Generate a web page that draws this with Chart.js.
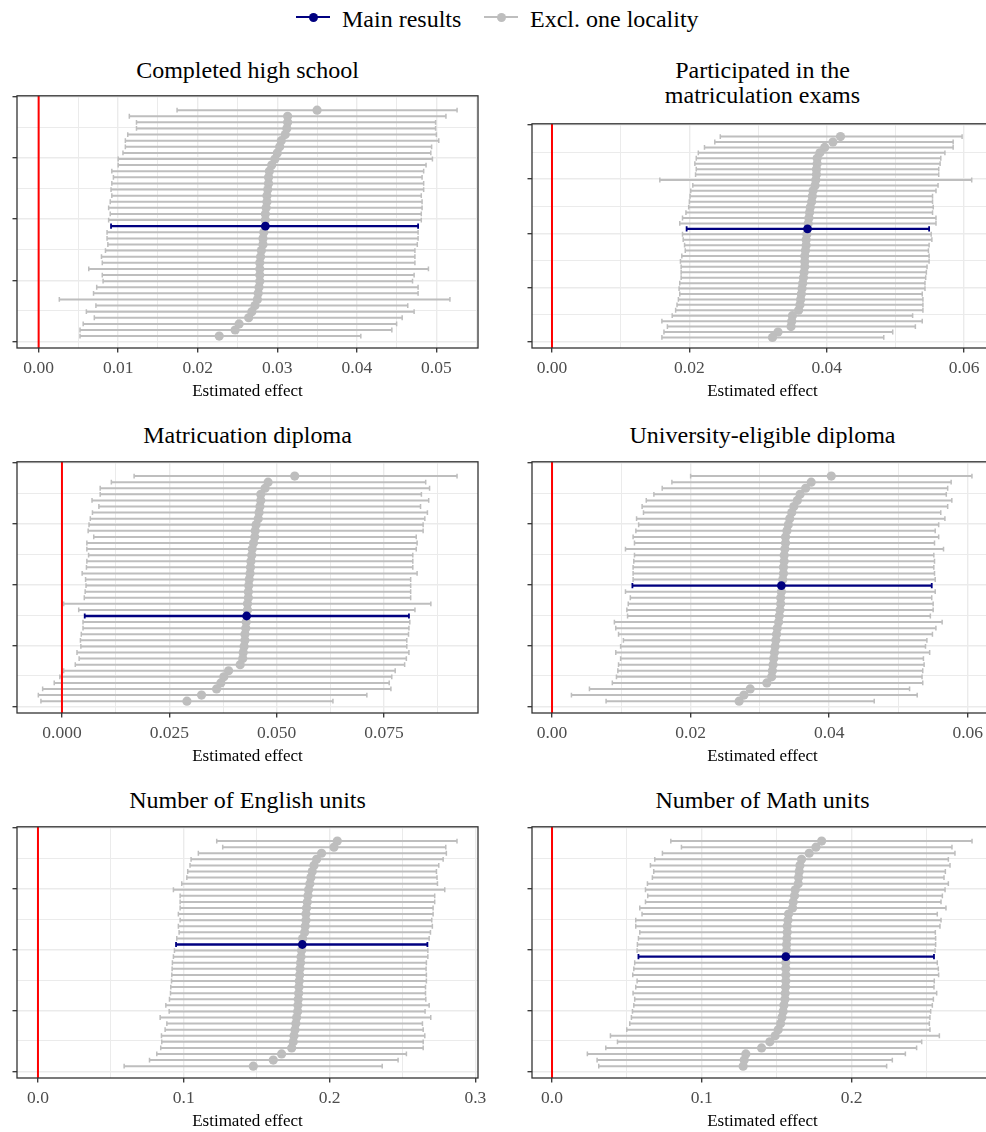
<!DOCTYPE html>
<html>
<head>
<meta charset="utf-8">
<script src="https://cdn.jsdelivr.net/npm/chart.js@4.4.0/dist/chart.umd.min.js"></script>
<style>
  body { margin: 0; width: 986px; height: 1132px; background: #fff; position: relative; overflow: hidden;
         font-family: "Liberation Serif", "DejaVu Serif", serif; }
  .title { position: absolute; text-align: center; font-size: 24px; line-height: 25px; color: #000; white-space: nowrap; }
  .leg-text { position: absolute; top: 6.6px; font-size: 24px; line-height: 24px; color: #000; white-space: nowrap; }
  .leg-line { position: absolute; top: 16px; width: 34px; height: 2px; }
  .leg-dot { position: absolute; top: 12.6px; width: 9px; height: 9px; border-radius: 50%; }
</style>
</head>
<body>
<div class="leg-line" style="left:296px;background:#000080"></div>
<div class="leg-dot" style="left:308.5px;background:#000080"></div>
<div class="leg-text" style="left:342px">Main results</div>
<div class="leg-line" style="left:484px;background:#bebebe"></div>
<div class="leg-dot" style="left:496.5px;background:#bebebe"></div>
<div class="leg-text" style="left:530px">Excl. one locality</div>

<script>
// panel titles
const titles = ['Completed high school', ['Participated in the', 'matriculation exams'],
  'Matricuation diploma', 'University-eligible diploma', 'Number of English units', 'Number of Math units'];

// estimates excluding one locality, listed top row to bottom row
const hsEst = [0.0350, 0.0313, 0.0313, 0.0312, 0.0310, 0.0305, 0.0303, 0.0300, 0.0297, 0.0293, 0.0290, 0.0289, 0.0289, 0.0288, 0.0287, 0.0287, 0.0286, 0.0285, 0.0285,
  0.0283, 0.0282, 0.0282, 0.0280, 0.0279, 0.0278, 0.0278, 0.0278, 0.0278, 0.0277, 0.0276, 0.0275, 0.0272, 0.0268, 0.0264, 0.0252, 0.0247, 0.0227];
const hsLo = [0.0174, 0.0114, 0.0123, 0.0123, 0.0112, 0.0109, 0.0109, 0.0106, 0.0100, 0.0100, 0.0092, 0.0094, 0.0092, 0.0091, 0.0092, 0.0090, 0.0088, 0.0090, 0.0088,
  0.0086, 0.0086, 0.0087, 0.0084, 0.0079, 0.0080, 0.0063, 0.0080, 0.0081, 0.0073, 0.0069, 0.0026, 0.0072, 0.0060, 0.0070, 0.0056, 0.0052, 0.0052];
const hsHi = [0.0526, 0.0512, 0.0499, 0.0499, 0.0500, 0.0503, 0.0494, 0.0493, 0.0495, 0.0487, 0.0484, 0.0482, 0.0484, 0.0484, 0.0481, 0.0482, 0.0482, 0.0481, 0.0481,
  0.0477, 0.0477, 0.0476, 0.0473, 0.0473, 0.0473, 0.0490, 0.0472, 0.0470, 0.0477, 0.0477, 0.0517, 0.0464, 0.0472, 0.0457, 0.0450, 0.0444, 0.0405];

const exEst = [0.0420, 0.0409, 0.0397, 0.0390, 0.0386, 0.0386, 0.0385, 0.0385, 0.0384, 0.0383, 0.0380, 0.0379, 0.0378, 0.0376, 0.0375, 0.0374, 0.0373,
  0.0371, 0.0370, 0.0370, 0.0369, 0.0368, 0.0368, 0.0368, 0.0367, 0.0366, 0.0365, 0.0364, 0.0363, 0.0362, 0.0361, 0.0359, 0.0350, 0.0349, 0.0348, 0.0329, 0.0321];
const exLo = [0.0245, 0.0237, 0.0222, 0.0213, 0.0210, 0.0208, 0.0210, 0.0209, 0.0157, 0.0205, 0.0202, 0.0201, 0.0200, 0.0199, 0.0195, 0.0190, 0.0186,
  0.0190, 0.0191, 0.0193, 0.0194, 0.0189, 0.0187, 0.0188, 0.0188, 0.0188, 0.0186, 0.0185, 0.0186, 0.0184, 0.0182, 0.0180, 0.0175, 0.0160, 0.0168, 0.0163, 0.0160];
const exHi = [0.0597, 0.0584, 0.0584, 0.0572, 0.0566, 0.0565, 0.0563, 0.0563, 0.0611, 0.0562, 0.0559, 0.0554, 0.0554, 0.0555, 0.0554, 0.0559, 0.0559,
  0.0552, 0.0553, 0.0549, 0.0548, 0.0549, 0.0549, 0.0546, 0.0545, 0.0544, 0.0543, 0.0543, 0.0539, 0.0540, 0.0540, 0.0540, 0.0525, 0.0539, 0.0529, 0.0496, 0.0483];

const dipEst = [0.0542, 0.0480, 0.0473, 0.0463, 0.0463, 0.0461, 0.0459, 0.0457, 0.0452, 0.0450, 0.0449, 0.0446, 0.0443, 0.0442, 0.0440, 0.0439, 0.0438, 0.0436, 0.0435, 0.0434, 0.0434, 0.0432, 0.0432,
  0.0429, 0.0428, 0.0426, 0.0426, 0.0424, 0.0422, 0.0421, 0.0415, 0.0388, 0.0377, 0.0370, 0.0360, 0.0325, 0.0291];
const dipLo = [0.0168, 0.0115, 0.0089, 0.0089, 0.0070, 0.0086, 0.0071, 0.0066, 0.0063, 0.0061, 0.0074, 0.0058, 0.0058, 0.0062, 0.0058, 0.0057, 0.0047, 0.0055, 0.0056, 0.0054, 0.0052, 0.0004, 0.0039,
  0.0049, 0.0049, 0.0045, 0.0043, 0.0044, 0.0035, 0.0040, 0.0031, 0.0004, -0.0005, -0.0018, -0.0045, -0.0055, -0.0049];
const dipHi = [0.0920, 0.0847, 0.0856, 0.0837, 0.0854, 0.0835, 0.0851, 0.0845, 0.0841, 0.0841, 0.0825, 0.0827, 0.0825, 0.0817, 0.0817, 0.0817, 0.0827, 0.0812, 0.0812, 0.0812, 0.0812, 0.0859, 0.0822,
  0.0810, 0.0808, 0.0807, 0.0803, 0.0803, 0.0808, 0.0802, 0.0798, 0.0776, 0.0768, 0.0762, 0.0766, 0.0710, 0.0631];

const uniEst = [0.0403, 0.0374, 0.0366, 0.0358, 0.0354, 0.0349, 0.0346, 0.0343, 0.0341, 0.0339, 0.0337, 0.0337, 0.0336, 0.0335, 0.0335, 0.0334, 0.0334, 0.0333,
  0.0331, 0.0330, 0.0330, 0.0329, 0.0328, 0.0327, 0.0325, 0.0324, 0.0323, 0.0322, 0.0321, 0.0320, 0.0319, 0.0318, 0.0317, 0.0310, 0.0286, 0.0277, 0.0270];
const uniLo = [0.0200, 0.0173, 0.0159, 0.0147, 0.0136, 0.0130, 0.0132, 0.0122, 0.0125, 0.0121, 0.0117, 0.0119, 0.0106, 0.0119, 0.0118, 0.0117, 0.0117, 0.0117,
  0.0106, 0.0113, 0.0110, 0.0108, 0.0109, 0.0090, 0.0092, 0.0096, 0.0103, 0.0099, 0.0092, 0.0099, 0.0096, 0.0095, 0.0093, 0.0087, 0.0054, 0.0028, 0.0078];
const uniHi = [0.0606, 0.0576, 0.0571, 0.0569, 0.0577, 0.0571, 0.0561, 0.0567, 0.0558, 0.0553, 0.0558, 0.0552, 0.0565, 0.0551, 0.0552, 0.0551, 0.0552, 0.0553,
  0.0553, 0.0548, 0.0550, 0.0550, 0.0546, 0.0563, 0.0554, 0.0549, 0.0541, 0.0539, 0.0545, 0.0536, 0.0537, 0.0535, 0.0534, 0.0535, 0.0516, 0.0527, 0.0465];

const engEst = [0.2053, 0.2030, 0.1945, 0.1911, 0.1893, 0.1881, 0.1872, 0.1865, 0.1856, 0.1852, 0.1847, 0.1842, 0.1838, 0.1838, 0.1833, 0.1829, 0.1815,
  0.1808, 0.1804, 0.1801, 0.1797, 0.1795, 0.1792, 0.1790, 0.1788, 0.1785, 0.1783, 0.1781, 0.1774, 0.1769, 0.1763, 0.1756, 0.1751, 0.1740, 0.1671, 0.1614, 0.1477];
const engLo = [0.1226, 0.1267, 0.1100, 0.1050, 0.1043, 0.1027, 0.1021, 0.0986, 0.0929, 0.0975, 0.0975, 0.0975, 0.0963, 0.0975, 0.0963, 0.0968, 0.0952,
  0.0936, 0.0929, 0.0922, 0.0920, 0.0918, 0.0916, 0.0911, 0.0909, 0.0902, 0.0877, 0.0900, 0.0838, 0.0884, 0.0872, 0.0847, 0.0849, 0.0842, 0.0815, 0.0765, 0.0591];
const engHi = [0.2874, 0.2797, 0.2801, 0.2779, 0.2749, 0.2733, 0.2737, 0.2740, 0.2790, 0.2721, 0.2721, 0.2710, 0.2710, 0.2701, 0.2705, 0.2692, 0.2683,
  0.2674, 0.2674, 0.2664, 0.2662, 0.2664, 0.2664, 0.2658, 0.2658, 0.2660, 0.2683, 0.2655, 0.2694, 0.2637, 0.2642, 0.2653, 0.2642, 0.2642, 0.2527, 0.2470, 0.2361];

const mathEst = [0.1800, 0.1762, 0.1717, 0.1666, 0.1655, 0.1650, 0.1646, 0.1644, 0.1624, 0.1619, 0.1610, 0.1606, 0.1579, 0.1575, 0.1570, 0.1570, 0.1568, 0.1566, 0.1566,
  0.1561, 0.1561, 0.1561, 0.1561, 0.1559, 0.1557, 0.1555, 0.1548, 0.1543, 0.1535, 0.1526, 0.1510, 0.1490, 0.1454, 0.1399, 0.1294, 0.1283, 0.1276];
const mathLo = [0.0793, 0.0864, 0.0737, 0.0686, 0.0657, 0.0679, 0.0670, 0.0637, 0.0624, 0.0639, 0.0624, 0.0586, 0.0601, 0.0559, 0.0559, 0.0586, 0.0577, 0.0570, 0.0568,
  0.0552, 0.0546, 0.0539, 0.0568, 0.0559, 0.0541, 0.0552, 0.0546, 0.0537, 0.0530, 0.0519, 0.0499, 0.0390, 0.0437, 0.0359, 0.0236, 0.0301, 0.0312];
const mathHi = [0.2804, 0.2670, 0.2690, 0.2646, 0.2657, 0.2626, 0.2617, 0.2646, 0.2624, 0.2606, 0.2597, 0.2630, 0.2572, 0.2597, 0.2590, 0.2559, 0.2561, 0.2561, 0.2557,
  0.2572, 0.2579, 0.2581, 0.2552, 0.2550, 0.2568, 0.2546, 0.2539, 0.2528, 0.2523, 0.2519, 0.2523, 0.2586, 0.2468, 0.2434, 0.2359, 0.2272, 0.2234];

// main results, one per panel, and the row (from the top) where each sits
const mainEst = [0.0285, 0.0372, 0.0430, 0.0331, 0.1813, 0.1561];
const mainLo = [0.0091, 0.0196, 0.0053, 0.0116, 0.0947, 0.0577];
const mainHi = [0.0477, 0.0549, 0.0808, 0.0548, 0.2671, 0.2550];
const mainRow = [19, 17, 23, 18, 17, 19];

// x axis: labelled ticks, decimals, and visible range
const xTicks = [[0, 0.01, 0.02, 0.03, 0.04, 0.05], [0, 0.02, 0.04, 0.06], [0, 0.025, 0.05, 0.075],
  [0, 0.02, 0.04, 0.06], [0, 0.1, 0.2, 0.3], [0, 0.1, 0.2]];
const xDigits = [2, 2, 3, 2, 1, 1];
const xMin = [-0.00272, -0.00291, -0.01047, -0.00289, -0.01438, -0.01336];
const xMax = [0.05523, 0.0642, 0.09688, 0.06364, 0.3018, 0.2944];

const estSets = [hsEst, exEst, dipEst, uniEst, engEst, mathEst];
const loSets = [hsLo, exLo, dipLo, uniLo, engLo, mathLo];
const hiSets = [hsHi, exHi, dipHi, uniHi, engHi, mathHi];

// panel boxes [left, top, right, bottom] in page pixels
const boxes = [[17, 95, 478, 348], [532, 123, 993, 348], [17, 461, 478, 713],
  [532, 461, 993, 713], [17, 826, 478, 1078], [532, 826, 993, 1078]];
const titleTops = [57.5, 57.5, 423.4, 423.4, 788.4, 788.4];

const GRAY = '#bebebe';
const NAVY = '#000080';
const Y_MIN = -1.1, Y_MAX = 40.2, TOP_ROW = 37.85;
const yMajor = [0, 10, 20, 30, 40];
const yAll = [0, 5, 10, 15, 20, 25, 30, 35, 40];

Chart.defaults.font.family = '"Liberation Serif", "DejaVu Serif", serif';

function isMajor(v, majors) {
  return majors.some(m => Math.abs(m - v) < 1e-9);
}

const panelBorder = {
  id: 'panelBorder',
  afterDatasetsDraw(chart) {
    const { ctx, chartArea: a } = chart;
    ctx.save();
    ctx.strokeStyle = '#333333';
    ctx.lineWidth = 1.3;
    ctx.strokeRect(a.left, a.top, a.right - a.left, a.bottom - a.top);
    ctx.restore();
  }
};

function makePanel(i) {
  const [L, T, R, B] = boxes[i];
  const padR = 16, padT = 5, padB = 1, yW = 8, xH = 58;

  const t = document.createElement('div');
  t.className = 'title';
  t.style.left = L + 'px';
  t.style.width = (R - L) + 'px';
  t.style.top = titleTops[i] + 'px';
  t.innerHTML = [].concat(titles[i]).join('<br>');
  document.body.appendChild(t);

  const cv = document.createElement('canvas');
  cv.width = R - L + yW + padR;
  cv.height = B - T + padT + xH + padB;
  cv.style.position = 'absolute';
  cv.style.left = (L - yW) + 'px';
  cv.style.top = (T - padT) + 'px';
  document.body.appendChild(cv);

  const est = estSets[i], lo = loSets[i], hi = hiSets[i];
  const bars = [], dots = [];
  est.forEach((e, j) => {
    const y = TOP_ROW - (j < mainRow[i] ? j : j + 1);
    bars.push({ x: lo[j], y: y }, { x: hi[j], y: y }, { x: lo[j], y: null });
    dots.push({ x: e, y: y });
  });
  const my = TOP_ROW - mainRow[i];

  const majors = xTicks[i];
  const half = (majors[1] - majors[0]) / 2;
  const xAll = [];
  for (let v = Math.ceil(xMin[i] / half - 1e-9) * half; v <= xMax[i] + 1e-9; v += half) {
    xAll.push(Number(v.toFixed(6)));
  }

  new Chart(cv, {
    type: 'scatter',
    data: {
      datasets: [
        { data: [{ x: mainEst[i], y: my }], pointRadius: 4.4, pointBackgroundColor: NAVY,
          pointBorderColor: NAVY, pointBorderWidth: 0, order: 0 },
        { data: [{ x: mainLo[i], y: my }, { x: mainHi[i], y: my }], showLine: true,
          borderColor: NAVY, borderWidth: 2.3, pointStyle: 'line', pointRotation: 90,
          pointRadius: 2.6, pointBorderColor: NAVY, pointBorderWidth: 1.8, order: 1 },
        { data: dots, pointRadius: 4.6, pointBackgroundColor: GRAY, pointBorderColor: GRAY,
          pointBorderWidth: 0, order: 2 },
        { data: [{ x: 0, y: Y_MIN }, { x: 0, y: Y_MAX }], showLine: true, borderColor: '#ff0000',
          borderWidth: 2, pointRadius: 0, order: 3 },
        { data: bars, showLine: true, spanGaps: false, borderColor: GRAY, borderWidth: 2,
          pointStyle: 'line', pointRotation: 90, pointRadius: 2.4, pointBorderColor: GRAY,
          pointBorderWidth: 1.5, order: 4 }
      ]
    },
    options: {
      responsive: false,
      animation: false,
      events: [],
      layout: { padding: { left: 0, top: padT, right: padR, bottom: padB } },
      plugins: { legend: { display: false }, tooltip: { enabled: false } },
      scales: {
        x: {
          type: 'linear', min: xMin[i], max: xMax[i],
          afterBuildTicks: s => { s.ticks = xAll.map(v => ({ value: v })); },
          afterFit: s => { s.height = xH; },
          ticks: {
            autoSkip: false, maxRotation: 0, padding: 5.5, color: '#4d4d4d',
            font: { size: 17.5 },
            callback: v => isMajor(v, majors) ? v.toFixed(xDigits[i]) : ''
          },
          grid: {
            color: '#ebebeb', tickLength: 4.5, tickWidth: 1.3,
            lineWidth: c => (c.tick && isMajor(c.tick.value, majors)) ? 1.4 : 1,
            tickColor: c => (c.tick && isMajor(c.tick.value, majors)) ? '#333333' : 'rgba(0,0,0,0)'
          },
          border: { display: false },
          title: { display: true, text: 'Estimated effect', color: '#000', font: { size: 17 },
                   padding: { top: 0, bottom: 4 } }
        },
        y: {
          type: 'linear', min: Y_MIN, max: Y_MAX,
          afterBuildTicks: s => { s.ticks = yAll.map(v => ({ value: v })); },
          afterFit: s => { s.width = yW; },
          ticks: { display: false },
          grid: {
            color: '#ebebeb', tickLength: 4.5, tickWidth: 1.3,
            lineWidth: c => (c.tick && isMajor(c.tick.value, yMajor)) ? 1.4 : 1,
            tickColor: c => (c.tick && isMajor(c.tick.value, yMajor)) ? '#333333' : 'rgba(0,0,0,0)'
          },
          border: { display: false }
        }
      }
    },
    plugins: [panelBorder]
  });
}

for (let i = 0; i < 6; i++) makePanel(i);
</script>
</body>
</html>
